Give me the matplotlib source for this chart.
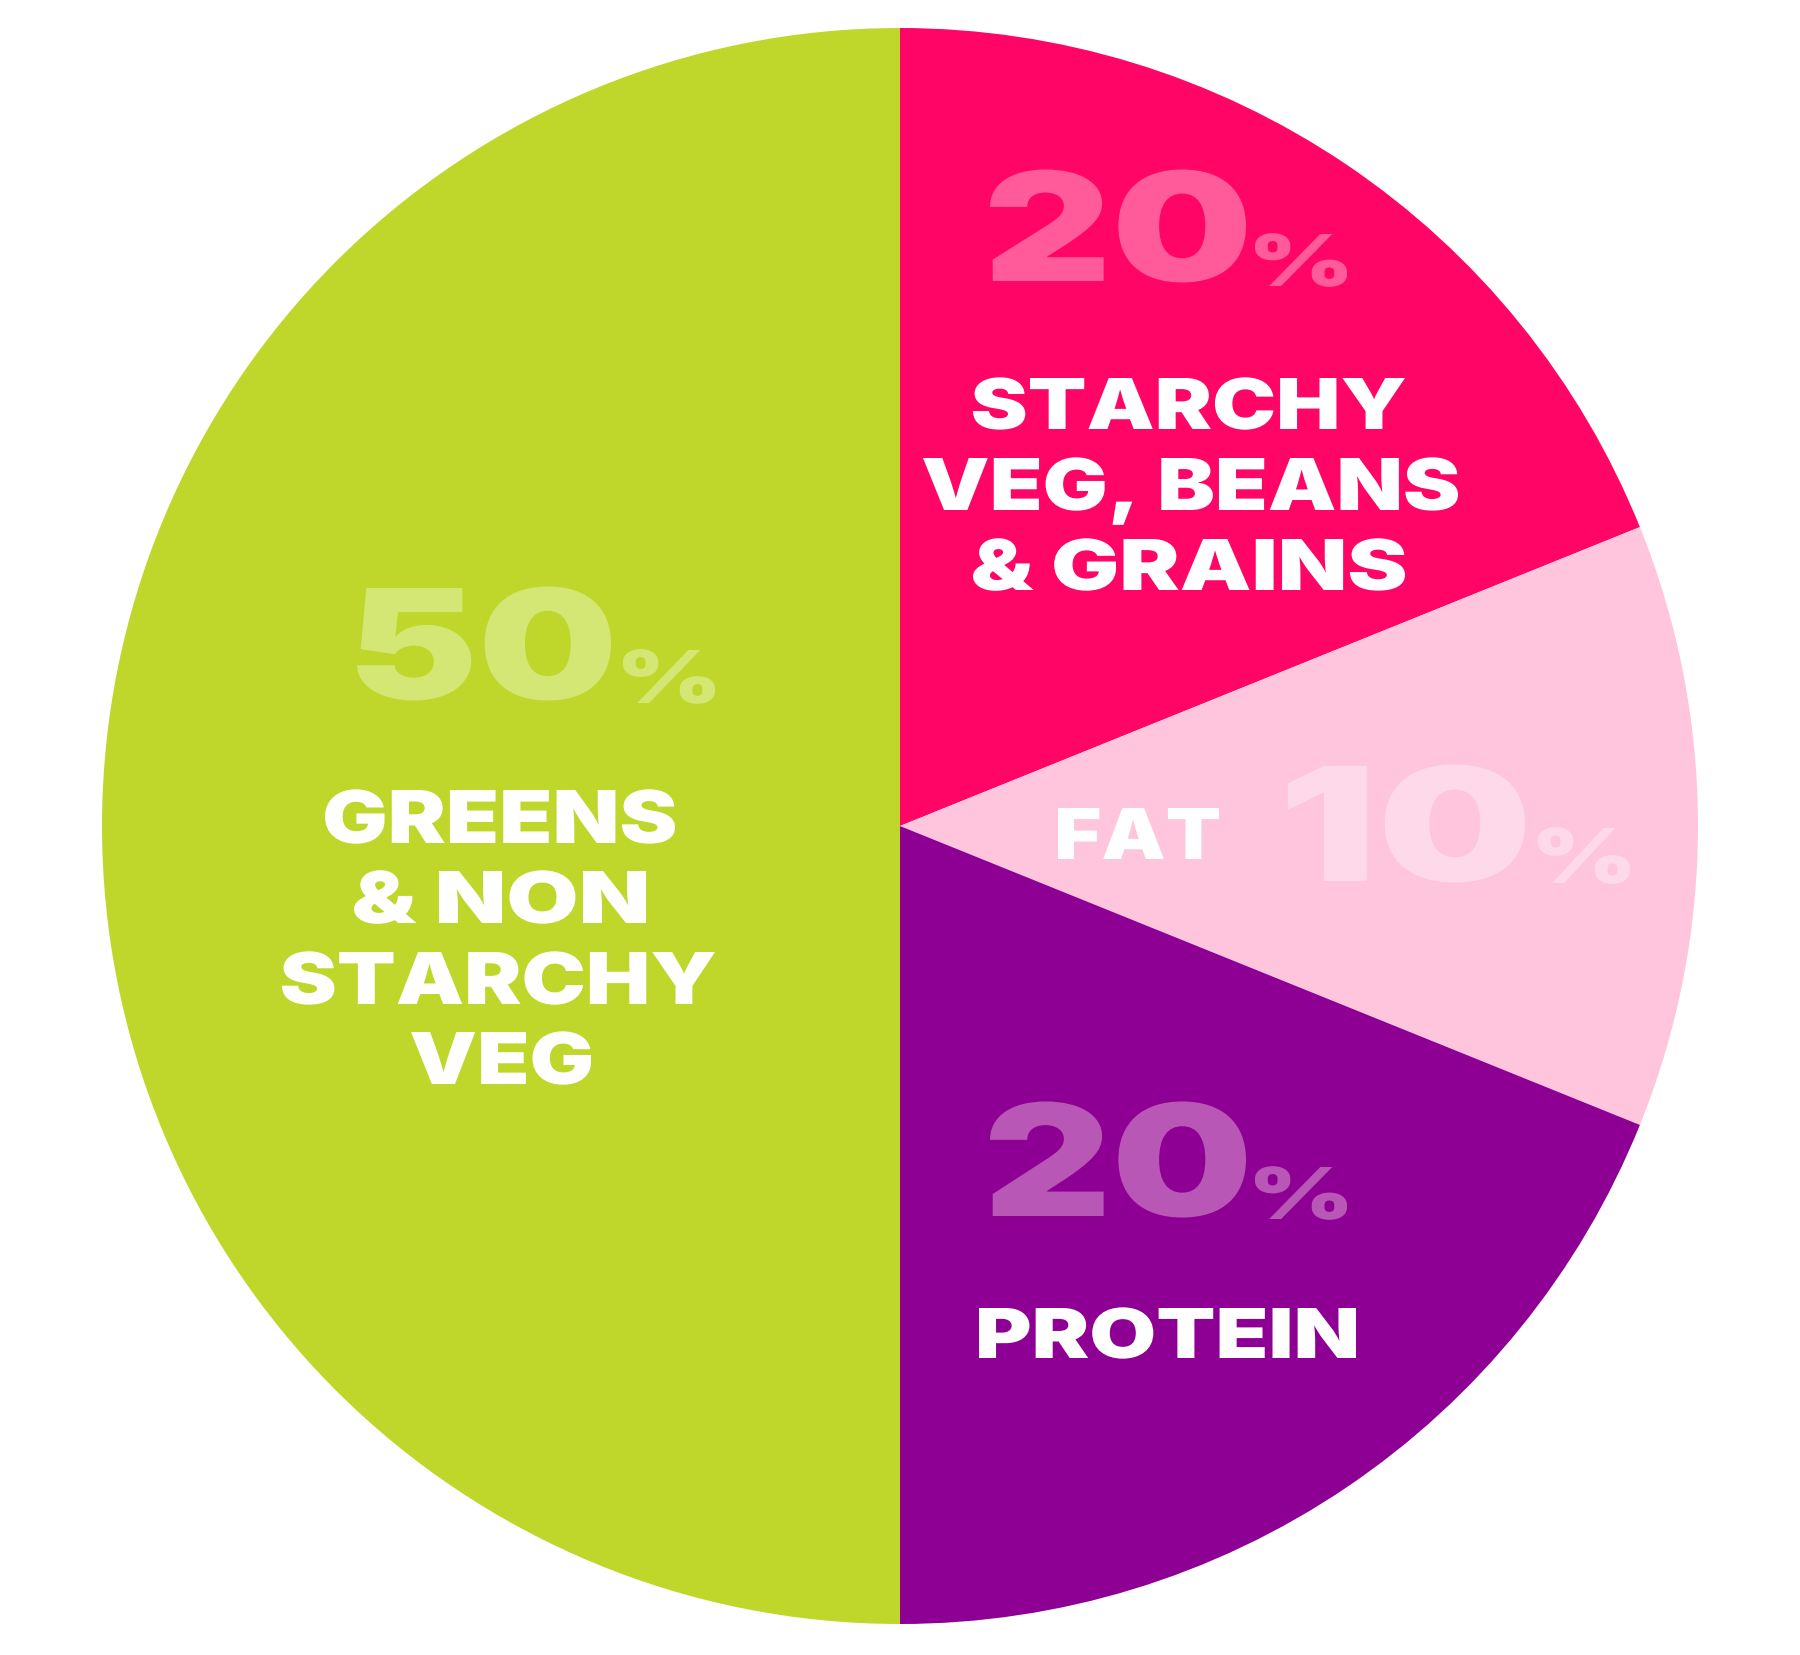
import matplotlib
matplotlib.use("Agg")
import matplotlib.pyplot as plt
from matplotlib.textpath import TextPath
from matplotlib.font_manager import FontProperties
from matplotlib.patches import PathPatch
from matplotlib.transforms import Affine2D

# slice sizes as drawn (degrees of the circle), clockwise from 12 o'clock
groups = ["Starchy veg, beans & grains", "Fat", "Protein", "Greens & non starchy veg"]
wedge_deg = [68, 44, 68, 180]
pct_labels = ["20", "10", "20", "50"]
colors = ["#FF0566", "#FEC5DD", "#8E0094", "#BFD72A"]
pct_colors = ["#FF5A99", "#FDD9E9", "#B857B5", "#D4E673"]

W, H = 1800, 1656
fig = plt.figure(figsize=(W / 100, H / 100), dpi=100)
ax = fig.add_axes([0, 0, 1, 1])

ax.pie(wedge_deg, colors=colors, startangle=90, counterclock=False,
       center=(900, H - 827), radius=798,
       wedgeprops=dict(linewidth=0, antialiased=True))
ax.set_xlim(0, W)
ax.set_ylim(0, H)
ax.set_aspect("equal")
ax.axis("off")

font = FontProperties(family="Inter", weight="black")
cap_ref = TextPath((0, 0), "H", size=100, prop=font).get_extents().height


def stretched_text(s, x0, x1, top, bottom, color):
    # draw s so that it spans x0..x1 and cap height top..bottom (image px, y down)
    path = TextPath((0, 0), s, size=100, prop=font)
    ext = path.get_extents()
    sx = (x1 - x0) / ext.width
    sy = (bottom - top) / cap_ref
    tr = Affine2D().translate(-ext.x0, 0).scale(sx, sy).translate(x0, H - bottom)
    ax.add_patch(PathPatch(tr.transform_path(path), facecolor=color,
                           edgecolor="none", lw=0))


# percentage figures: digits then a smaller % sign
pct_boxes = [
    ((990, 1246, 172, 282), (1255, 1347, 235, 287)),
    ((1288, 1525, 767, 882), (1538, 1630, 829, 884)),
    ((990, 1246, 1104, 1217), (1255, 1347, 1168, 1220)),
    ((357, 611, 589, 700), (623, 715, 651, 704)),
]
for lab, c, (dbox, pbox) in zip(pct_labels, pct_colors, pct_boxes):
    stretched_text(lab, *dbox, c)
    stretched_text("%", *pbox, c)

# white category names, one entry per line
name_lines = [
    ("STARCHY", 973, 1405, 379, 430),
    ("VEG, BEANS", 923, 1458, 459, 511),
    ("& GRAINS", 973, 1405, 540, 591),
    ("FAT", 1058, 1219, 809, 860),
    ("PROTEIN", 979, 1356, 1309, 1359),
    ("GREENS", 325, 675, 791, 844),
    ("& NON", 354, 646, 872, 924),
    ("STARCHY", 282, 715, 953, 1005),
    ("VEG", 411, 591, 1033, 1085),
]
for s, x0, x1, top, bottom in name_lines:
    stretched_text(s, x0, x1, top, bottom, "white")

fig.savefig("out.png", dpi=100, facecolor="white")
